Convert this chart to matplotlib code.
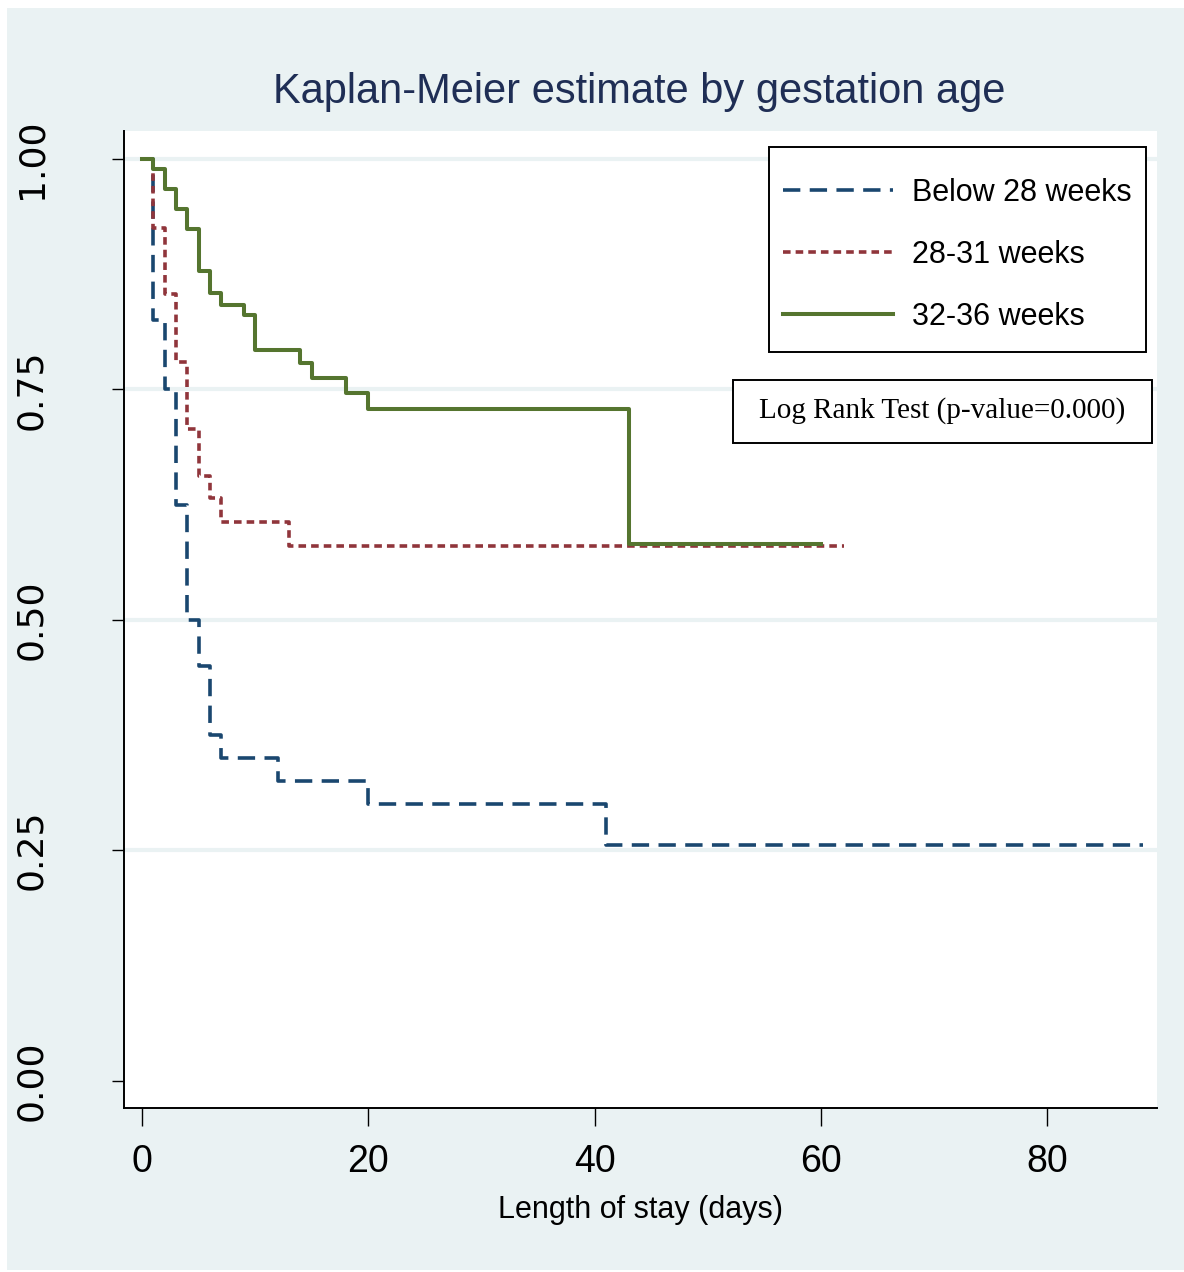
import matplotlib
matplotlib.use("Agg")
import matplotlib.pyplot as plt
from matplotlib.patches import Rectangle

# ---- data ----
below28_t = [0, 1, 2, 3, 4, 5, 6, 7, 12, 20, 41, 88.5]
below28_s = [1.0, 0.825, 0.75, 0.625, 0.50, 0.45, 0.375, 0.35, 0.325, 0.30, 0.256, 0.256]

w28_31_t = [0, 1, 2, 3, 4, 5, 6, 7, 13, 62]
w28_31_s = [1.0, 0.925, 0.853, 0.78, 0.707, 0.656, 0.632, 0.606, 0.580, 0.580]

w32_36_t = [0, 1, 2, 3, 4, 5, 6, 7, 9, 10, 14, 15, 18, 20, 43, 60]
w32_36_s = [1.0, 0.989, 0.967, 0.946, 0.924, 0.878, 0.855, 0.842, 0.831, 0.793,
            0.779, 0.762, 0.746, 0.729, 0.582, 0.582]

labels = ["Below 28 weeks", "28-31 weeks", "32-36 weeks"]
xticks = [0, 20, 40, 60, 80]
yticks = [0.00, 0.25, 0.50, 0.75, 1.00]
ytick_labels = ["0.00", "0.25", "0.50", "0.75", "1.00"]

title = "Kaplan-Meier estimate by gestation age"
xlabel = "Length of stay (days)"
note = "Log Rank Test (p-value=0.000)"

# ---- styles ----
BG = "#EAF2F3"
C_BLUE = "#1A476F"
C_RED = "#90353B"
C_GREEN = "#55752F"
W, H = 1184, 1272
LW = 2.6

fig = plt.figure(figsize=(W / 100, H / 100), dpi=100, facecolor="white")


def fx(px):
    return px / W


def fy(py):
    return 1 - py / H


# outer panel
fig.add_artist(Rectangle((fx(7), fy(1270)), fx(1184) - fx(7), fy(8) - fy(1270),
                         transform=fig.transFigure, facecolor=BG, edgecolor="none", zorder=-1))

ax = fig.add_axes([fx(124), fy(1108), fx(1157) - fx(124), fy(131) - fy(1108)])
ax.set_facecolor("white")
ax.set_xlim(-1.59, 89.7)
ax.set_ylim(-0.0297, 1.0304)

for s in ["top", "right"]:
    ax.spines[s].set_visible(False)
for s in ["left", "bottom"]:
    ax.spines[s].set_linewidth(1.4)
    ax.spines[s].set_color("black")

ax.set_yticks(yticks)
ax.set_yticklabels(ytick_labels, rotation=90, va="center",
                   fontsize=26, family="DejaVu Sans")
ax.set_xticks(xticks)
ax.set_xticklabels([str(v) for v in xticks], fontsize=27, family="Liberation Sans")
ax.tick_params(axis="y", length=8.6, width=1.0, pad=46)
ax.tick_params(axis="x", length=13, width=1.0, pad=13)

ax.yaxis.grid(True, color=BG, linewidth=3)
ax.set_axisbelow(True)
gl = ax.yaxis.get_gridlines()
gl[0].set_visible(False)

l1, = ax.step(below28_t, below28_s, where="post", color=C_BLUE, lw=LW,
              linestyle=(0, (4.8, 2.6)), zorder=3)
l2, = ax.step(w28_31_t, w28_31_s, where="post", color=C_RED, lw=LW,
              linestyle=(0, (2.1, 1.4)), zorder=4)
l3, = ax.step(w32_36_t, w32_36_s, where="post", color=C_GREEN, lw=LW + 0.3,
              linestyle="-", zorder=5)

ax.set_xlabel(xlabel, fontsize=22, family="Liberation Sans", labelpad=11)

fig.text(fx(639), fy(92), title, fontsize=30, family="Liberation Sans",
         color="#1F2E55", ha="center", va="center")

# legend frame (drawn inside the axes so the legend can sit on top)
ax.add_patch(Rectangle((fx(769), fy(352)), fx(1146) - fx(769), fy(147) - fy(352),
                       transform=fig.transFigure, facecolor="white",
                       edgecolor="black", linewidth=1.4, zorder=6, clip_on=False))
leg = ax.legend([l1, l2, l3], labels, loc="center left",
                bbox_to_anchor=(fx(783), fy(255)), bbox_transform=fig.transFigure,
                prop={"family": "Liberation Sans", "size": 22},
                frameon=False, handlelength=3.6, handletextpad=0.62,
                labelspacing=1.05, borderpad=0, borderaxespad=0)
leg.set_zorder(8)

# Log-rank note box
ax.add_patch(Rectangle((fx(733), fy(443)), fx(1152) - fx(733), fy(380) - fy(443),
                       transform=fig.transFigure, facecolor="white",
                       edgecolor="black", linewidth=1.4, zorder=6, clip_on=False))
ax.text(fx(942.5), fy(411), note, fontsize=21, family="Liberation Serif",
        ha="center", va="center", zorder=7, transform=fig.transFigure)

fig.savefig("out.png", dpi=100, facecolor="white")
